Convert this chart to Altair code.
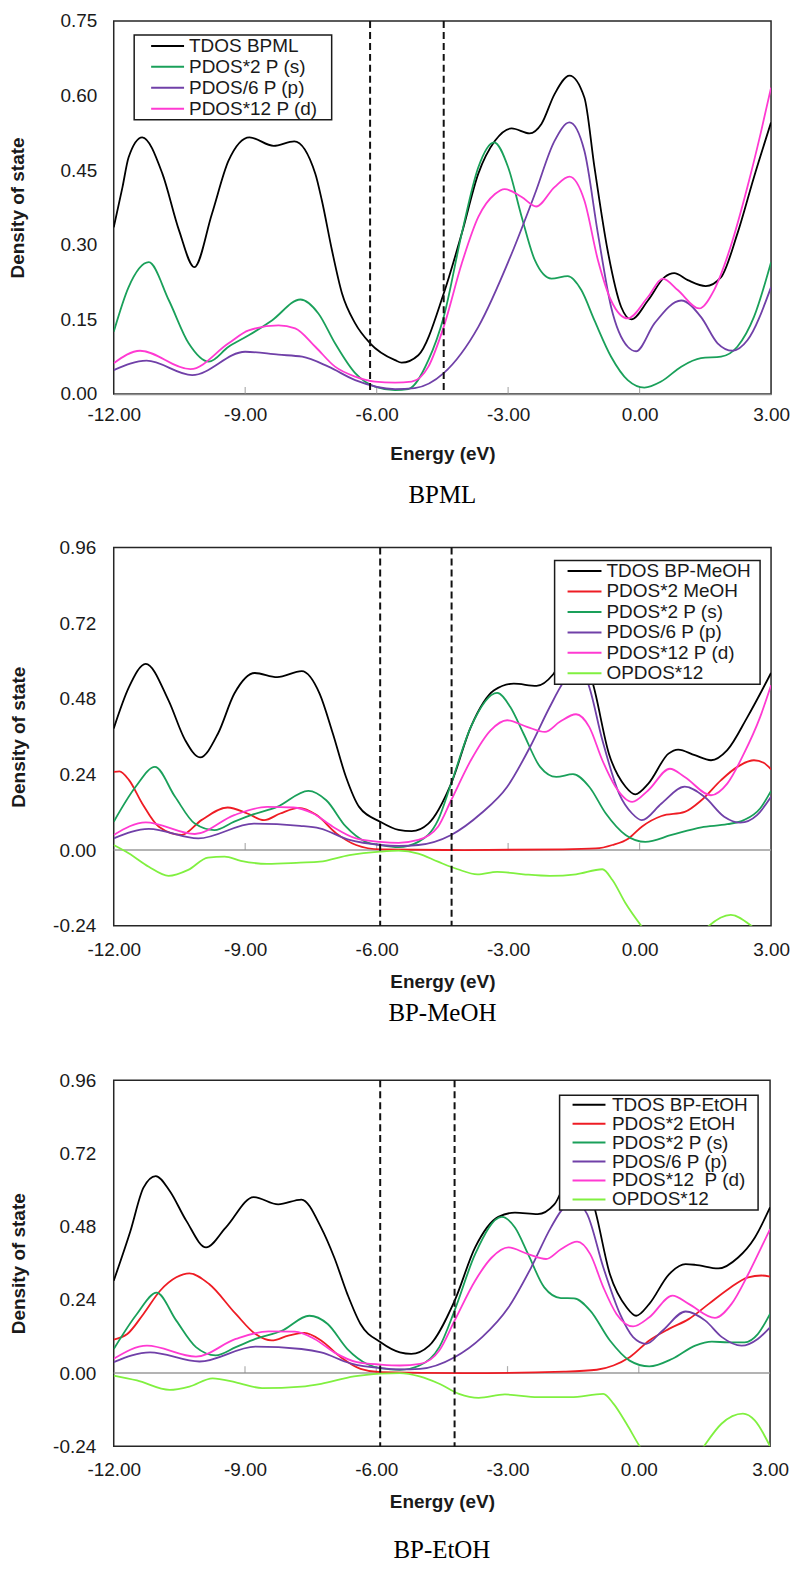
import altair as alt
import pandas as pd

FONT = "Liberation Sans"
SERIF = "Liberation Serif"
TXT = "#1a1a1a"

# ---------------- Panel 1: BPML ----------------
p1_tdos_e = [-12.0, -11.8, -11.66, -11.35, -10.89, -10.51, -10.16, -9.76, -9.38, -8.9, -8.35, -7.88, -7.4, -7.25, -7.02, -6.79, -6.49, -6.15, -5.58, -5.43, -5.05, -4.47, -4.06, -3.68, -3.30, -2.92, -2.51, -2.24, -1.94, -1.60, -1.26, -1.03, -0.73, -0.42, -0.19, 0.19, 0.57, 0.79, 1.10, 1.51, 1.86, 2.23, 2.61, 3.0]
p1_tdos_v = [0.335, 0.416, 0.476, 0.516, 0.443, 0.329, 0.255, 0.362, 0.469, 0.516, 0.499, 0.508, 0.443, 0.389, 0.289, 0.202, 0.142, 0.102, 0.068, 0.063, 0.078, 0.202, 0.322, 0.443, 0.509, 0.534, 0.524, 0.543, 0.603, 0.640, 0.596, 0.456, 0.289, 0.175, 0.150, 0.188, 0.235, 0.243, 0.229, 0.217, 0.235, 0.322, 0.436, 0.546]

p1_s_e = [-12.0, -11.66, -11.2, -10.74, -10.29, -9.83, -9.38, -8.92, -8.39, -7.74, -7.33, -6.95, -6.49, -6.04, -5.58, -5.28, -4.82, -4.47, -4.06, -3.68, -3.32, -3.0, -2.69, -2.39, -2.01, -1.64, -1.33, -1.03, -0.65, -0.27, 0.11, 0.49, 0.95, 1.40, 1.86, 2.23, 2.61, 3.0]
p1_s_v = [0.125, 0.215, 0.265, 0.188, 0.102, 0.065, 0.095, 0.118, 0.148, 0.190, 0.162, 0.102, 0.042, 0.015, 0.008, 0.010, 0.068, 0.155, 0.322, 0.456, 0.506, 0.456, 0.356, 0.269, 0.232, 0.237, 0.209, 0.148, 0.075, 0.028, 0.013, 0.025, 0.055, 0.072, 0.075, 0.095, 0.155, 0.265]

p1_p_e = [-12.0, -11.25, -10.21, -9.0, -8.24, -7.70, -7.1, -6.49, -5.58, -5.13, -4.47, -3.68, -2.92, -2.39, -1.94, -1.60, -1.26, -0.95, -0.65, -0.27, -0.08, 0.34, 0.95, 1.40, 1.78, 2.12, 2.46, 3.0]
p1_p_v = [0.048, 0.067, 0.038, 0.085, 0.079, 0.075, 0.055, 0.028, 0.010, 0.012, 0.042, 0.135, 0.282, 0.402, 0.509, 0.546, 0.489, 0.322, 0.175, 0.095, 0.086, 0.142, 0.188, 0.155, 0.102, 0.087, 0.108, 0.215]

p1_d_e = [-12.0, -11.4, -10.25, -9.38, -8.92, -8.24, -7.86, -7.4, -6.95, -6.49, -6.04, -5.58, -5.2, -4.82, -4.47, -4.06, -3.68, -3.30, -3.08, -2.69, -2.36, -1.94, -1.60, -1.26, -0.95, -0.65, -0.27, 0.19, 0.53, 0.87, 1.36, 1.70, 2.08, 2.46, 2.76, 3.0]
p1_d_v = [0.062, 0.087, 0.050, 0.102, 0.128, 0.138, 0.132, 0.095, 0.055, 0.035, 0.025, 0.023, 0.025, 0.055, 0.135, 0.262, 0.356, 0.402, 0.412, 0.396, 0.377, 0.416, 0.437, 0.389, 0.269, 0.188, 0.152, 0.195, 0.232, 0.209, 0.172, 0.209, 0.297, 0.416, 0.523, 0.616]

p1_dash = [-6.15, -4.47]

# ---------------- Panel 2: BP-MeOH ----------------
p2_tdos_e = [-12.0, -11.65, -11.27, -10.75, -10.37, -10.03, -9.62, -9.25, -8.78, -8.27, -7.71, -7.30, -7.0, -6.70, -6.40, -5.92, -5.50, -5.2, -4.82, -4.30, -3.85, -3.32, -2.87, -2.35, -1.97, -1.55, -1.07, -0.70, -0.32, -0.10, 0.20, 0.66, 0.88, 1.26, 1.63, 2.00, 2.46, 3.0]
p2_tdos_v = [0.386, 0.518, 0.591, 0.475, 0.349, 0.294, 0.370, 0.496, 0.562, 0.549, 0.568, 0.496, 0.370, 0.232, 0.137, 0.090, 0.064, 0.060, 0.084, 0.211, 0.391, 0.507, 0.528, 0.521, 0.558, 0.660, 0.530, 0.306, 0.201, 0.177, 0.211, 0.306, 0.319, 0.301, 0.285, 0.317, 0.422, 0.562]

p2_mol_e = [-12.0, -11.87, -11.65, -11.35, -10.97, -10.45, -10.0, -9.40, -8.95, -8.57, -8.20, -7.78, -7.37, -6.92, -6.47, -5.92, -4.0, -1.75, -1.0, -0.62, -0.25, 0.05, 0.50, 1.03, 1.41, 1.86, 2.23, 2.61, 2.83, 3.0]
p2_mol_v = [0.248, 0.250, 0.222, 0.148, 0.074, 0.048, 0.095, 0.135, 0.116, 0.095, 0.116, 0.134, 0.111, 0.053, 0.016, 0.002, 0.0, 0.002, 0.005, 0.016, 0.037, 0.074, 0.108, 0.121, 0.158, 0.222, 0.264, 0.285, 0.277, 0.256]

p2_s_e = [-12.0, -11.5, -11.06, -10.6, -10.15, -9.70, -9.25, -8.80, -8.27, -7.56, -7.15, -6.70, -6.25, -5.92, -5.50, -5.05, -4.6, -4.30, -3.85, -3.25, -2.95, -2.65, -2.27, -1.90, -1.52, -1.15, -0.77, -0.32, 0.13, 0.73, 1.41, 2.0, 2.38, 2.75, 3.0]
p2_s_v = [0.090, 0.201, 0.264, 0.169, 0.084, 0.063, 0.090, 0.114, 0.137, 0.188, 0.158, 0.074, 0.026, 0.016, 0.009, 0.026, 0.095, 0.211, 0.391, 0.499, 0.454, 0.370, 0.264, 0.232, 0.241, 0.201, 0.116, 0.048, 0.026, 0.048, 0.072, 0.082, 0.095, 0.132, 0.188]

p2_p_e = [-12.0, -11.2, -10.07, -8.80, -7.75, -7.30, -6.62, -5.92, -5.50, -5.05, -4.30, -3.62, -3.02, -2.50, -2.05, -1.75, -1.45, -1.18, -0.85, -0.47, -0.17, 0.05, 0.50, 1.03, 1.48, 1.93, 2.30, 2.68, 3.0]
p2_p_v = [0.037, 0.067, 0.037, 0.084, 0.077, 0.069, 0.032, 0.016, 0.013, 0.016, 0.048, 0.116, 0.201, 0.327, 0.454, 0.530, 0.575, 0.530, 0.349, 0.180, 0.116, 0.095, 0.148, 0.201, 0.169, 0.106, 0.087, 0.111, 0.169]

p2_d_e = [-12.0, -11.27, -10.15, -9.25, -8.50, -7.90, -7.45, -7.0, -6.47, -5.92, -5.50, -5.05, -4.6, -4.30, -3.85, -3.40, -3.02, -2.57, -2.16, -1.82, -1.45, -1.15, -0.85, -0.55, -0.17, 0.20, 0.69, 1.03, 1.63, 2.0, 2.38, 2.75, 3.0]
p2_d_v = [0.048, 0.088, 0.051, 0.111, 0.137, 0.135, 0.116, 0.074, 0.037, 0.026, 0.023, 0.032, 0.074, 0.158, 0.285, 0.380, 0.412, 0.391, 0.375, 0.407, 0.431, 0.391, 0.285, 0.201, 0.153, 0.190, 0.258, 0.232, 0.174, 0.211, 0.306, 0.422, 0.523]

p2_op_e = [-12.0, -11.65, -11.2, -10.75, -10.30, -9.85, -9.47, -9.10, -8.50, -7.75, -7.30, -6.62, -5.92, -5.50, -5.05, -4.6, -4.15, -3.70, -3.25, -2.65, -2.05, -1.45, -0.85, -0.62, -0.32, 0.05, 0.5, 1.0, 1.56, 2.08, 2.57, 3.0]
p2_op_v = [0.016, -0.011, -0.053, -0.082, -0.063, -0.024, -0.021, -0.034, -0.044, -0.040, -0.037, -0.016, -0.005, -0.002, -0.011, -0.037, -0.061, -0.077, -0.069, -0.077, -0.082, -0.077, -0.061, -0.095, -0.169, -0.243, -0.32, -0.34, -0.243, -0.206, -0.243, -0.30]

p2_dash = [-5.92, -4.29]

# ---------------- Panel 3: BP-EtOH ----------------
p3_tdos_e = [-12.0, -11.62, -11.32, -11.04, -10.72, -10.34, -9.89, -9.44, -8.80, -8.24, -7.71, -7.26, -6.96, -6.66, -6.36, -5.90, -5.46, -5.20, -4.79, -4.21, -3.74, -3.21, -2.83, -2.31, -1.93, -1.5, -1.03, -0.66, -0.28, -0.06, 0.24, 0.69, 1.07, 1.29, 1.82, 2.27, 2.65, 3.0]
p3_tdos_v = [0.303, 0.465, 0.608, 0.646, 0.597, 0.499, 0.412, 0.477, 0.577, 0.553, 0.569, 0.477, 0.379, 0.259, 0.161, 0.101, 0.068, 0.063, 0.090, 0.237, 0.412, 0.512, 0.526, 0.521, 0.553, 0.660, 0.550, 0.324, 0.216, 0.188, 0.227, 0.324, 0.357, 0.355, 0.343, 0.379, 0.444, 0.543]

p3_mol_e = [-12.0, -11.69, -11.32, -10.94, -10.57, -10.27, -9.82, -9.21, -8.76, -8.39, -8.01, -7.64, -7.26, -6.81, -6.36, -5.90, -4.0, -1.71, -0.96, -0.58, -0.21, 0.24, 0.69, 1.14, 1.60, 2.05, 2.50, 2.80, 3.0]
p3_mol_v = [0.110, 0.128, 0.194, 0.270, 0.314, 0.327, 0.292, 0.194, 0.128, 0.107, 0.123, 0.132, 0.107, 0.052, 0.014, 0.003, 0.0, 0.005, 0.011, 0.025, 0.052, 0.107, 0.145, 0.177, 0.227, 0.276, 0.314, 0.320, 0.316]

p3_s_e = [-12.0, -11.47, -11.02, -10.57, -10.12, -9.67, -9.21, -8.76, -8.16, -7.53, -7.11, -6.66, -6.21, -5.90, -5.46, -5.01, -4.56, -4.21, -3.74, -3.13, -2.83, -2.53, -2.16, -1.78, -1.48, -1.11, -0.66, -0.21, 0.24, 0.77, 1.29, 1.67, 2.05, 2.42, 2.72, 3.0]
p3_s_v = [0.079, 0.194, 0.264, 0.172, 0.085, 0.058, 0.085, 0.112, 0.139, 0.188, 0.161, 0.079, 0.030, 0.016, 0.011, 0.025, 0.085, 0.205, 0.390, 0.512, 0.477, 0.390, 0.281, 0.246, 0.245, 0.205, 0.107, 0.041, 0.022, 0.047, 0.090, 0.103, 0.101, 0.101, 0.128, 0.194]

p3_p_e = [-12.0, -11.17, -10.04, -8.76, -7.71, -7.26, -6.59, -5.90, -5.46, -5.0, -4.21, -3.58, -2.98, -2.46, -2.01, -1.71, -1.45, -1.18, -0.81, -0.43, -0.13, 0.17, 0.54, 1.07, 1.52, 1.90, 2.35, 2.72, 3.0]
p3_p_v = [0.036, 0.068, 0.038, 0.087, 0.079, 0.068, 0.032, 0.016, 0.012, 0.014, 0.052, 0.118, 0.215, 0.346, 0.477, 0.543, 0.560, 0.521, 0.346, 0.194, 0.118, 0.096, 0.139, 0.202, 0.172, 0.118, 0.090, 0.112, 0.150]

p3_d_e = [-12.0, -11.24, -10.12, -9.21, -8.46, -7.86, -7.41, -6.96, -6.44, -5.90, -5.46, -5.0, -4.56, -4.21, -3.74, -3.36, -2.98, -2.53, -2.12, -1.78, -1.41, -1.11, -0.81, -0.51, -0.13, 0.24, 0.77, 1.14, 1.74, 2.12, 2.50, 2.80, 3.0]
p3_d_v = [0.047, 0.090, 0.054, 0.112, 0.137, 0.136, 0.112, 0.068, 0.036, 0.028, 0.025, 0.030, 0.074, 0.172, 0.303, 0.379, 0.412, 0.390, 0.374, 0.406, 0.431, 0.390, 0.281, 0.194, 0.153, 0.183, 0.254, 0.227, 0.181, 0.227, 0.324, 0.412, 0.472]

p3_op_e = [-12.0, -11.47, -10.72, -10.27, -9.74, -9.21, -8.61, -7.71, -7.26, -6.51, -5.90, -5.46, -5.01, -4.56, -4.11, -3.66, -3.06, -2.31, -1.56, -0.81, -0.58, -0.28, 0.03, 0.5, 1.0, 1.48, 1.89, 2.38, 2.65, 3.0]
p3_op_v = [-0.008, -0.024, -0.055, -0.044, -0.017, -0.030, -0.049, -0.044, -0.035, -0.011, -0.002, 0.0, -0.011, -0.035, -0.068, -0.081, -0.070, -0.079, -0.079, -0.068, -0.100, -0.166, -0.242, -0.33, -0.35, -0.242, -0.166, -0.133, -0.155, -0.240]

p3_dash = [-5.91, -4.21]

# ---------------- shared ----------------
x_ticks = [-12, -9, -6, -3, 0, 3]
inner_ticks = [-9, -6, -3, 0]
y1_ticks = [0, 0.15, 0.30, 0.45, 0.60, 0.75]
y23_ticks = [-0.24, 0, 0.24, 0.48, 0.72, 0.96]

C_BLACK = "#000000"
C_RED = "#ee1c24"
C_GREEN = "#1aa05a"
C_PURPLE = "#7040a8"
C_MAG = "#ff3ad2"
C_LIME = "#80f040"

# plain hyphen-minus like the original, two decimals
LABEL_EXPR = ("datum.value < 0 ? '-' + format(-datum.value, '.2f') "
              ": format(datum.value, '.2f')")


def make_df(series):
    rows = []
    for name, es, vs in series:
        for i, (e, v) in enumerate(zip(es, vs)):
            rows.append({"series": name, "E": e, "v": v, "i": i})
    return pd.DataFrame(rows)


def panel(series, colors, ydom, yticks, dashes, width, height, caption,
          leg, xlab_pad, xtitle_pad, ylab_pad, ytitle_pad, cap_offset,
          zero_line, x_domain, subtitle_gap=None):
    df = make_df(series)
    names = [s[0] for s in series]
    x_axis = alt.Axis(values=x_ticks, labelExpr=LABEL_EXPR, title="Energy (eV)",
                      labelFont=FONT, labelFontSize=19, labelColor=TXT,
                      titleFont=FONT, titleFontSize=19, titleFontWeight="bold",
                      titleColor=TXT, ticks=False, tickSize=0, grid=False,
                      labelPadding=xlab_pad, titlePadding=xtitle_pad,
                      domain=x_domain, domainColor="#8c8c8c", domainWidth=1.5,
                      labelFlush=False, labelOverlap=False)
    y_axis = alt.Axis(values=yticks, labelExpr=LABEL_EXPR,
                      title="Density of state",
                      labelFont=FONT, labelFontSize=19, labelColor=TXT,
                      titleFont=FONT, titleFontSize=19, titleFontWeight="bold",
                      titleColor=TXT, ticks=False, tickSize=0, grid=False,
                      domain=False, labelPadding=ylab_pad,
                      titlePadding=ytitle_pad, labelFlush=False,
                      labelOverlap=False)
    X = alt.X("E:Q", scale=alt.Scale(domain=[-12, 3], nice=False, zero=False),
              axis=x_axis)
    Y = alt.Y("v:Q", scale=alt.Scale(domain=ydom, nice=False, zero=False),
              axis=y_axis)

    layers = []
    if zero_line:
        zdf = pd.DataFrame({"v": [0.0]})
        layers.append(alt.Chart(zdf).mark_rule(color="#9a9a9a", strokeWidth=1.5)
                      .encode(y=Y))
    tdf = pd.DataFrame({"E": inner_ticks, "v": [0.0] * len(inner_ticks)})
    layers.append(alt.Chart(tdf).mark_tick(orient="vertical", size=7,
                                           thickness=1.2, yOffset=-3.5,
                                           color="#8c8c8c")
                  .encode(x=X, y=Y))
    legend = alt.Legend(orient="none", legendX=leg["x"], legendY=leg["y"],
                        title=" ", titleOrient="right",
                        titlePadding=leg["tpad"], titleFontSize=19,
                        padding=leg["pad"], strokeColor="#1a1a1a",
                        fillColor="white", symbolType="stroke",
                        symbolSize=leg["sym"] ** 2, symbolStrokeWidth=2,
                        clipHeight=leg["h"], rowPadding=leg["rp"],
                        symbolOffset=leg["so"], labelOffset=leg["lo"],
                        labelFont=FONT, labelFontSize=leg["fs"],
                        labelColor=TXT, labelLimit=400)
    layers.append(alt.Chart(df).mark_line(strokeWidth=1.8,
                                          interpolate="monotone", clip=True)
                  .encode(x=X, y=Y,
                          color=alt.Color("series:N",
                                          scale=alt.Scale(domain=names,
                                                          range=colors),
                                          legend=legend),
                          order="i:Q"))
    ddf = pd.DataFrame({"E": dashes})
    layers.append(alt.Chart(ddf).mark_rule(color="#111111", strokeWidth=2,
                                           strokeDash=[7, 4])
                  .encode(x=X))
    tp = dict(text=caption, orient="bottom", font=SERIF, fontSize=25,
              fontWeight="normal", color="#000000", offset=cap_offset,
              anchor="middle")
    if subtitle_gap is not None:
        tp.update(subtitle=" ", subtitleFontSize=subtitle_gap[0],
                  subtitlePadding=subtitle_gap[1])
    return alt.layer(*layers).properties(width=width, height=height,
                                          title=alt.TitleParams(**tp))


panel1 = panel(
    [("TDOS BPML", p1_tdos_e, p1_tdos_v),
     ("PDOS*2 P (s)", p1_s_e, p1_s_v),
     ("PDOS/6 P (p)", p1_p_e, p1_p_v),
     ("PDOS*12 P (d)", p1_d_e, p1_d_v)],
    [C_BLACK, C_GREEN, C_PURPLE, C_MAG], [0, 0.75], y1_ticks, p1_dash,
    659, 374, "BPML",
    dict(x=20.5, y=14, pad=1, h=20, rp=1.0, sym=33, so=15, lo=4, tpad=13,
         fs=19),
    12, 20, 17, 32, 19, False, True)

panel2 = panel(
    [("TDOS BP-MeOH", p2_tdos_e, p2_tdos_v),
     ("PDOS*2 MeOH", p2_mol_e, p2_mol_v),
     ("PDOS*2 P (s)", p2_s_e, p2_s_v),
     ("PDOS/6 P (p)", p2_p_e, p2_p_v),
     ("PDOS*12 P (d)", p2_d_e, p2_d_v),
     ("OPDOS*12", p2_op_e, p2_op_v)],
    [C_BLACK, C_RED, C_GREEN, C_PURPLE, C_MAG, C_LIME], [-0.24, 0.96],
    y23_ticks, p2_dash, 659, 379, "BP-MeOH",
    dict(x=442, y=13, pad=1, h=19, rp=0.5, sym=34, so=11, lo=4, tpad=8,
         fs=19),
    14.5, 14, 18, 24.5, 9, True, False, subtitle_gap=(10, 4))

panel3 = panel(
    [("TDOS BP-EtOH", p3_tdos_e, p3_tdos_v),
     ("PDOS*2 EtOH", p3_mol_e, p3_mol_v),
     ("PDOS*2 P (s)", p3_s_e, p3_s_v),
     ("PDOS/6 P (p)", p3_p_e, p3_p_v),
     ("PDOS*12\u00a0 P (d)", p3_d_e, p3_d_v),
     ("OPDOS*12", p3_op_e, p3_op_v)],
    [C_BLACK, C_RED, C_GREEN, C_PURPLE, C_MAG, C_LIME], [-0.24, 0.96],
    y23_ticks, p3_dash, 658, 367, "BP-EtOH",
    dict(x=447, y=15, pad=0.5, h=18, rp=-1.4, sym=33, so=11.5, lo=5.5,
         tpad=10, fs=19),
    14.5, 13, 18, 24.5, 26, True, False)

chart = alt.concat(panel1, panel2, panel3, columns=1, spacing=29
                   ).resolve_scale(
    color="independent", x="independent", y="independent"
).properties(
    padding={"left": 0, "top": 1, "right": 0, "bottom": 5},
    background="white"
).configure_view(stroke="#262626", strokeWidth=1.5
).configure_legend(strokeWidth=1.5)

chart.save("out.html", embed_options={"renderer": "svg", "actions": False})
